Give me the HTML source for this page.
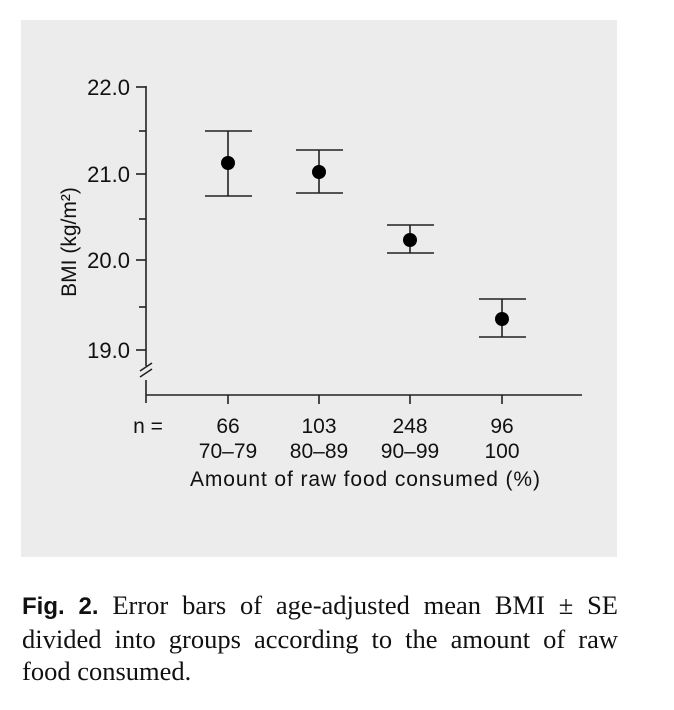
<!DOCTYPE html>
<html><head><style>
body{margin:0;width:674px;height:710px;background:#fff;overflow:hidden}
.cap{position:absolute;left:22px;top:589px;width:596px;font:26.5px/32px "Liberation Serif",serif;color:#111}
.cap div{text-align:justify;text-align-last:justify;white-space:nowrap}
.cap div.l{text-align-last:left}
.cap b{font-family:"Liberation Sans",sans-serif;font-size:24px}
</style></head><body>
<svg width="674" height="710" style="position:absolute;left:0;top:0" font-family="Liberation Sans, sans-serif">
<rect x="21" y="20" width="596" height="537" fill="#ececec"/>
<g stroke="#222" stroke-width="1.6" fill="none">
<line x1="146" y1="86" x2="146" y2="366"/>
<line x1="146" y1="380" x2="146" y2="403"/>
<line x1="136" y1="87" x2="146" y2="87"/>
<line x1="136" y1="174" x2="146" y2="174"/>
<line x1="136" y1="260" x2="146" y2="260"/>
<line x1="136" y1="350" x2="146" y2="350"/>
<line x1="139" y1="131" x2="146" y2="131"/>
<line x1="139" y1="219" x2="146" y2="219"/>
<line x1="139" y1="307" x2="146" y2="307"/>
<line x1="140" y1="371" x2="152" y2="363"/>
<line x1="140" y1="377" x2="152" y2="369"/>
<line x1="146" y1="395" x2="582" y2="395"/>
<line x1="228" y1="395" x2="228" y2="404"/>
<line x1="319" y1="395" x2="319" y2="404"/>
<line x1="410" y1="395" x2="410" y2="404"/>
<line x1="502" y1="395" x2="502" y2="404"/>
<path d="M228 131V196M205 131H252M205 196H252"/>
<path d="M319 150V193M296 150H343M296 193H343"/>
<path d="M410 225V253M387 225H434M387 253H434"/>
<path d="M502 299V337M479 299H526M479 337H526"/>
</g>
<g fill="#000"><circle cx="228" cy="163" r="7"/><circle cx="319" cy="172" r="7"/><circle cx="410" cy="240" r="7"/><circle cx="502" cy="319" r="7"/></g>
<g font-size="22" fill="#111" text-anchor="end">
<text x="130" y="95">22.0</text><text x="130" y="182">21.0</text><text x="130" y="268">20.0</text><text x="130" y="358">19.0</text>
</g>
<text transform="translate(76,242) rotate(-90)" font-size="21" fill="#111" text-anchor="middle">BMI (kg/m²)</text>
<g font-size="21" fill="#111" text-anchor="middle">
<text x="148" y="433">n =</text>
<text x="228" y="433">66</text><text x="319" y="433">103</text><text x="410" y="433">248</text><text x="502" y="433">96</text>
<text x="228" y="458">70–79</text><text x="319" y="458">80–89</text><text x="410" y="458">90–99</text><text x="502" y="458">100</text>
<text x="365" y="486" textLength="350">Amount of raw food consumed (%)</text>
</g>
</svg>
<div class="cap"><div><b>Fig. 2.</b> Error bars of age-adjusted mean BMI ± SE</div><div>divided into groups according to the amount of raw</div><div class="l">food consumed.</div></div>
</body></html>
